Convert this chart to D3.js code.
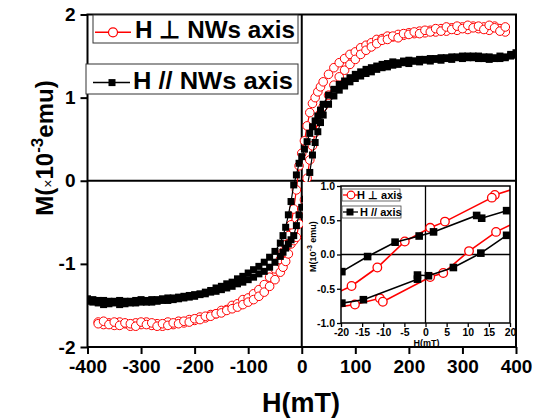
<!DOCTYPE html>
<html><head><meta charset="utf-8">
<script src="https://cdn.jsdelivr.net/npm/d3@7"></script>
<style>
body{margin:0;background:#fff}
svg{display:block}
text{font-family:"Liberation Sans",Arial,Helvetica,sans-serif;}
</style>
</head><body>
<svg id="chart" width="540" height="419"></svg>
<script>
// ---------- main data (H in mT, M in 1e-3 emu) ----------
const redField = [-380,-370,-360,-350,-340,-330,-320,-310,-300,-290,-280,-270,-260,-250,-240,-230,-220,-210,-200,-190,-180,-170,-160,-150,-140,-130,-120,-110,-100,-90,-80,-70,-60,-50,-40,
 -35,-30,-25,-20,-15,-10,-5,0,5,10,15,20,25,30,35,
 40,50,60,70,80,90,100,110,120,130,140,150,160,170,180,190,200,210,220,230,240,250,260,270,280,290,300,310,320,330,340,350,360,370,380];
const redDesc = [-1.70,-1.73,-1.71,-1.74,-1.70,-1.72,-1.75,-1.71,-1.73,-1.70,-1.74,-1.72,-1.75,-1.70,-1.73,-1.69,-1.71,-1.67,-1.68,-1.64,-1.65,-1.61,-1.60,-1.56,-1.55,-1.50,-1.48,-1.43,-1.41,-1.36,-1.31,-1.25,-1.16,-1.06,-0.95,
 -0.86,-0.77,-0.66,-0.53,-0.34,-0.11,0.18,0.33,0.48,0.66,0.82,0.93,1.00,1.07,1.13,
 1.19,1.28,1.36,1.42,1.47,1.52,1.55,1.60,1.63,1.66,1.70,1.71,1.74,1.73,1.76,1.75,1.78,1.77,1.80,1.78,1.81,1.79,1.83,1.80,1.84,1.81,1.85,1.82,1.86,1.83,1.85,1.81,1.86,1.83,1.79];
const redAsc = [-1.72,-1.69,-1.73,-1.70,-1.74,-1.71,-1.72,-1.75,-1.70,-1.73,-1.71,-1.75,-1.72,-1.74,-1.71,-1.72,-1.69,-1.70,-1.66,-1.67,-1.63,-1.63,-1.60,-1.59,-1.56,-1.54,-1.52,-1.49,-1.46,-1.43,-1.39,-1.34,-1.27,-1.19,-1.10,
 -1.04,-0.97,-0.88,-0.76,-0.72,-0.68,-0.52,-0.34,-0.23,0.03,0.25,0.42,0.58,0.71,0.81,
 0.89,1.03,1.15,1.25,1.33,1.40,1.46,1.52,1.57,1.61,1.65,1.69,1.70,1.74,1.72,1.77,1.76,1.79,1.77,1.81,1.79,1.83,1.80,1.85,1.82,1.86,1.83,1.87,1.84,1.86,1.82,1.87,1.84,1.80,1.85];

const blackField = [-400,-390,-380,-370,-360,-350,-340,-330,-320,-310,-300,-290,-280,-270,-260,-250,-240,-230,-220,-210,-200,-190,-180,-170,-160,-150,-140,-130,-120,-110,-100,-90,-80,-70,-60,-50,-40,
 -35,-30,-25,-20,-15,-10,-5,0,5,10,15,20,25,30,35,
 40,50,60,70,80,90,100,110,120,130,140,150,160,170,180,190,200,210,220,230,240,250,260,270,280,290,300,310,320,330,340,350,360,370,380,390,400];
const blackDesc = [-1.42,-1.46,-1.44,-1.49,-1.45,-1.47,-1.44,-1.48,-1.45,-1.47,-1.43,-1.46,-1.43,-1.45,-1.42,-1.44,-1.41,-1.42,-1.39,-1.40,-1.37,-1.36,-1.34,-1.32,-1.29,-1.27,-1.24,-1.22,-1.18,-1.15,-1.11,-1.07,-1.03,-0.98,-0.92,-0.85,-0.75,
 -0.66,-0.56,-0.41,-0.25,-0.05,0.07,0.21,0.29,0.38,0.47,0.57,0.65,0.72,0.78,0.85,
 0.92,1.03,1.10,1.16,1.20,1.24,1.28,1.31,1.34,1.36,1.38,1.40,1.41,1.43,1.42,1.44,1.45,1.44,1.46,1.45,1.47,1.46,1.48,1.47,1.49,1.48,1.50,1.48,1.50,1.47,1.49,1.46,1.48,1.47,1.49,1.50,1.54];
const blackAsc = [-1.45,-1.43,-1.47,-1.44,-1.48,-1.45,-1.49,-1.45,-1.47,-1.44,-1.46,-1.44,-1.46,-1.43,-1.44,-1.41,-1.43,-1.40,-1.41,-1.38,-1.39,-1.37,-1.36,-1.34,-1.33,-1.31,-1.29,-1.27,-1.24,-1.22,-1.19,-1.16,-1.12,-1.09,-1.04,-0.98,-0.91,
 -0.86,-0.81,-0.76,-0.71,-0.66,-0.54,-0.41,-0.32,-0.22,-0.08,0.10,0.31,0.46,0.59,0.70,
 0.79,0.92,1.02,1.09,1.14,1.19,1.23,1.26,1.29,1.31,1.34,1.36,1.37,1.39,1.40,1.42,1.41,1.44,1.43,1.46,1.44,1.47,1.45,1.48,1.46,1.49,1.47,1.50,1.48,1.50,1.47,1.49,1.47,1.50,1.48,1.52,1.51];

const xTicks = [-400,-300,-200,-100,0,100,200,300,400];
const yTicks = [-2,-1,0,1,2];
const legendLabels = ["H \u22A5 NWs axis", "H // NWs axis"];

// ---------- inset data ----------
const insRedDescH = [23,16.4,15.7,4.6,1.1,-4.9,-11.4,-17.5,-24];
const insRedDescM = [1.00,0.87,0.83,0.48,0.39,0.19,-0.19,-0.46,-0.64];
const insRedAscH  = [-23,-16.7,-10.8,-10.1,1.1,4.2,10.3,16.7,23];
const insRedAscM  = [-0.79,-0.73,-0.64,-0.69,-0.33,-0.27,0.05,0.33,0.52];
const insBlkDescH = [19.2,13.3,12.1,1.9,-1.5,-7.2,-13.7,-19.8];
const insBlkDescM = [0.64,0.53,0.57,0.33,0.27,0.18,-0.03,-0.25];
const insBlkAscH  = [-19.8,-14.7,-1.9,-1.9,0.7,6.6,13.1,19.2];
const insBlkAscM  = [-0.71,-0.66,-0.36,-0.30,-0.31,-0.19,0.02,0.28];
const insXTicks = [-20,-15,-10,-5,0,5,10,15,20];
const insYTicks = [-1.0,-0.5,0.0,0.5,1.0];
const insLegendLabels = ["H \u22A5 axis", "H // axis"];

const RED = "#ff0000", BLK = "#000000";
const hyph = f => (d => f(d).replace("\u2212","-"));
const svg = d3.select("#chart");

// ---------- main scales ----------
const x = d3.scaleLinear().domain([-400,400]).range([87.5,516]);
const y = d3.scaleLinear().domain([-2,2]).range([347,14.5]);

svg.append("defs").append("clipPath").attr("id","mainClip")
  .append("rect").attr("x",x(-400)).attr("y",y(2)).attr("width",x(400)-x(-400)).attr("height",y(-2)-y(2));

// zero lines
svg.append("line").attr("x1",x(-400)).attr("x2",x(400)).attr("y1",y(0)).attr("y2",y(0)).attr("stroke","#000").attr("stroke-width",2);
svg.append("line").attr("x1",x(0)).attr("x2",x(0)).attr("y1",y(2)).attr("y2",y(-2)).attr("stroke","#000").attr("stroke-width",2);

const line = d3.line().x(d=>x(d[0])).y(d=>y(d[1]));
const gData = svg.append("g").attr("clip-path","url(#mainClip)");

function drawSeries(field, vals, color, shape){
  const pts = d3.zip(field, vals);
  gData.append("path").attr("d",line(pts)).attr("fill","none").attr("stroke",color).attr("stroke-width",1.2);
  if(shape==="circle"){
    gData.append("g").selectAll("circle").data(pts).join("circle")
      .attr("cx",d=>x(d[0])).attr("cy",d=>y(d[1])).attr("r",4.3)
      .attr("fill","#fff").attr("stroke",color).attr("stroke-width",1);
  } else {
    gData.append("g").selectAll("rect").data(pts).join("rect")
      .attr("x",d=>x(d[0])-3.5).attr("y",d=>y(d[1])-3.5).attr("width",7).attr("height",7)
      .attr("fill",color);
  }
}
drawSeries(redField, redDesc, RED, "circle");
drawSeries(redField, redAsc, RED, "circle");
drawSeries(blackField, blackDesc, BLK, "square");
drawSeries(blackField, blackAsc, BLK, "square");

// ---------- main axes / frame ----------
const gx = svg.append("g").attr("transform",`translate(0,${y(-2)})`)
  .call(d3.axisBottom(x).tickValues(xTicks).tickSize(7).tickPadding(5).tickFormat(hyph(d3.format("d"))));
const gy = svg.append("g").attr("transform",`translate(${x(-400)},0)`)
  .call(d3.axisLeft(y).tickValues(yTicks).tickSize(7).tickPadding(5).tickFormat(hyph(d3.format("d"))));
[gx,gy].forEach(g=>{
  g.select(".domain").remove();
  g.selectAll("line").attr("stroke","#000").attr("stroke-width",2);
  g.selectAll("text").attr("font-size",19).attr("font-weight","bold").attr("fill","#000");
});
gx.selectAll("text").attr("dy","0.72em");
svg.append("rect").attr("x",x(-400)).attr("y",y(2)).attr("width",x(400)-x(-400)).attr("height",y(-2)-y(2))
  .attr("fill","none").attr("stroke","#000").attr("stroke-width",2);

// axis titles
svg.append("text").attr("x",301).attr("y",412).attr("text-anchor","middle")
  .attr("font-size",27).attr("font-weight","bold").text("H(mT)");
const yt = svg.append("text").attr("transform","translate(53,148) rotate(-90)").attr("text-anchor","middle")
  .attr("font-size",24).attr("font-weight","bold");
yt.append("tspan").text("M(");
yt.append("tspan").attr("font-size",14).attr("font-weight","normal").text("\u00D7");
yt.append("tspan").text("10");
yt.append("tspan").attr("font-size",17).attr("dy",-10).text("-3");
yt.append("tspan").attr("dy",10).text("emu)");

// ---------- main legend ----------
const legendBoxes = [{x:93,y:15,w:205,h:28,tx:135},{x:86,y:64,w:212,h:30,tx:133}];
legendBoxes.forEach((b,i)=>{
  const g = svg.append("g");
  g.append("rect").attr("x",b.x).attr("y",b.y).attr("width",b.w).attr("height",b.h)
    .attr("fill","#fff").attr("stroke","#333").attr("stroke-width",1);
  const cy = b.y + b.h*0.62;
  const col = i===0?RED:BLK;
  g.append("line").attr("x1",b.x+(i===0?2:7)).attr("x2",b.x+(i===0?38:44)).attr("y1",cy).attr("y2",cy)
    .attr("stroke",col).attr("stroke-width",1.5);
  if(i===0) g.append("circle").attr("cx",b.x+20).attr("cy",cy).attr("r",4.5).attr("fill","#fff").attr("stroke",col).attr("stroke-width",1.2);
  else g.append("rect").attr("x",b.x+26-3.5).attr("y",cy-3.5).attr("width",7).attr("height",7).attr("fill",col);
  g.append("text").attr("x",b.tx).attr("y",b.y+b.h-5).attr("font-size",24).attr("font-weight","bold")
    .attr("textLength",160).attr("lengthAdjust","spacingAndGlyphs").text(legendLabels[i]);
});

// ---------- inset ----------
svg.append("rect").attr("x",303).attr("y",182).attr("width",212).attr("height",164).attr("fill","#fff");
const ix = d3.scaleLinear().domain([-20,20]).range([341,510]);
const iy = d3.scaleLinear().domain([-1,1]).range([323,186]);
svg.append("defs").append("clipPath").attr("id","insClip")
  .append("rect").attr("x",ix(-20)).attr("y",iy(1)).attr("width",ix(20)-ix(-20)).attr("height",iy(-1)-iy(1));

svg.append("line").attr("x1",ix(-20)).attr("x2",ix(20)).attr("y1",iy(0)).attr("y2",iy(0)).attr("stroke","#000").attr("stroke-width",1.3);
svg.append("line").attr("x1",ix(0)).attr("x2",ix(0)).attr("y1",iy(1)).attr("y2",iy(-1)).attr("stroke","#000").attr("stroke-width",1.3);

const iline = d3.line().x(d=>ix(d[0])).y(d=>iy(d[1]));
const gi = svg.append("g").attr("clip-path","url(#insClip)");
function drawInset(hs, ms, color, shape){
  const pts = d3.zip(hs, ms);
  gi.append("path").attr("d",iline(pts)).attr("fill","none").attr("stroke",color).attr("stroke-width",1.6);
  if(shape==="circle"){
    gi.append("g").selectAll("circle").data(pts).join("circle")
      .attr("cx",d=>ix(d[0])).attr("cy",d=>iy(d[1])).attr("r",4.3)
      .attr("fill","#fff").attr("stroke",color).attr("stroke-width",1.3);
  } else {
    gi.append("g").selectAll("rect").data(pts).join("rect")
      .attr("x",d=>ix(d[0])-3.8).attr("y",d=>iy(d[1])-3.8).attr("width",7.6).attr("height",7.6).attr("fill",color);
  }
}
drawInset(insRedDescH, insRedDescM, RED, "circle");
drawInset(insRedAscH, insRedAscM, RED, "circle");
drawInset(insBlkDescH, insBlkDescM, BLK, "square");
drawInset(insBlkAscH, insBlkAscM, BLK, "square");

const igx = svg.append("g").attr("transform",`translate(0,${iy(-1)})`)
  .call(d3.axisBottom(ix).tickValues(insXTicks).tickSize(4).tickPadding(2).tickFormat(hyph(d3.format("d"))));
const igy = svg.append("g").attr("transform",`translate(${ix(-20)},0)`)
  .call(d3.axisLeft(iy).tickValues(insYTicks).tickSize(4).tickPadding(2).tickFormat(hyph(d3.format(".1f"))));
[igx,igy].forEach(g=>{
  g.select(".domain").remove();
  g.selectAll("line").attr("stroke","#000").attr("stroke-width",1.3);
  g.selectAll("text").attr("font-size",10.5).attr("font-weight","bold").attr("fill","#000");
});
svg.append("rect").attr("x",ix(-20)).attr("y",iy(1)).attr("width",ix(20)-ix(-20)).attr("height",iy(-1)-iy(1))
  .attr("fill","none").attr("stroke","#000").attr("stroke-width",1.5);

svg.append("text").attr("x",ix(0)+1).attr("y",345.5).attr("text-anchor","middle")
  .attr("font-size",9).attr("font-weight","bold").text("H(mT)");
const iyt = svg.append("text").attr("transform",`translate(316,${(iy(1)+iy(-1))/2-8}) rotate(-90)`).attr("text-anchor","middle")
  .attr("font-size",9).attr("font-weight","bold");
iyt.append("tspan").text("M(10");
iyt.append("tspan").attr("font-size",7).attr("dy",-4).text("-3");
iyt.append("tspan").attr("dy",4).text(" emu)");

// inset legend
const insBoxes = [{x:342,y:189,w:58,h:12},{x:342,y:206,w:59,h:12}];
insBoxes.forEach((b,i)=>{
  const g = svg.append("g");
  g.append("rect").attr("x",b.x).attr("y",b.y).attr("width",b.w).attr("height",b.h)
    .attr("fill","#fff").attr("stroke","#444").attr("stroke-width",0.8);
  const cy = b.y + b.h/2;
  const col = i===0?RED:BLK;
  g.append("line").attr("x1",b.x+1).attr("x2",b.x+16).attr("y1",cy).attr("y2",cy).attr("stroke",col).attr("stroke-width",1.3);
  if(i===0) g.append("circle").attr("cx",b.x+9).attr("cy",cy).attr("r",3.8).attr("fill","#fff").attr("stroke",col).attr("stroke-width",1.2);
  else g.append("rect").attr("x",b.x+8-3.5).attr("y",cy-3.5).attr("width",7).attr("height",7).attr("fill",col);
  g.append("text").attr("x",b.x+(i===0?15:18)).attr("y",b.y+b.h-2.5).attr("font-size",11).attr("font-weight","bold").text(insLegendLabels[i]);
});
</script>
</body></html>
